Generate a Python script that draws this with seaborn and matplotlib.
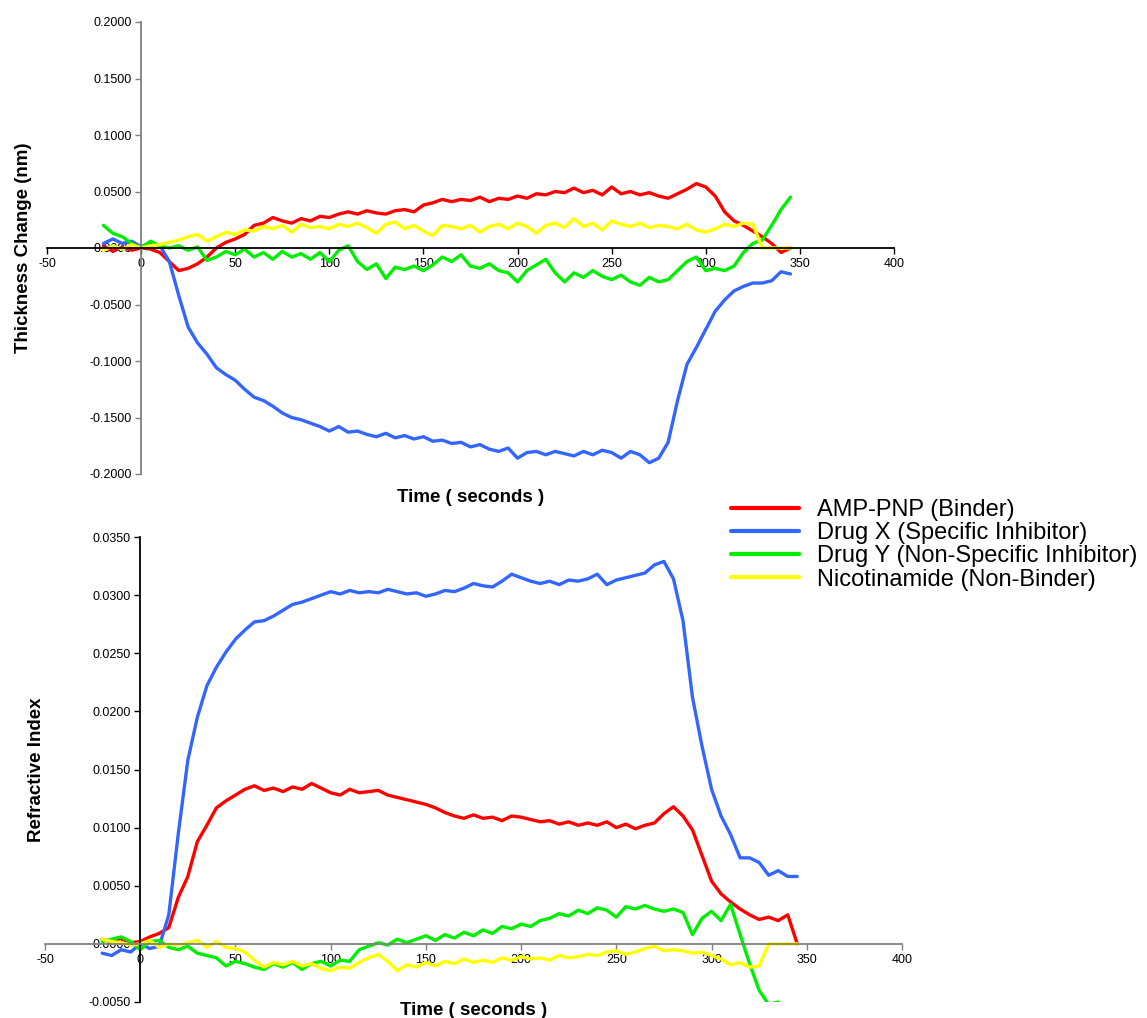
import numpy as np
import pandas as pd
import matplotlib
matplotlib.use("Agg")
import matplotlib.pyplot as plt
import seaborn as sns
from matplotlib.ticker import FixedLocator, FormatStrFormatter
from matplotlib.lines import Line2D

# ---------------- data ----------------
time = list(range(-20, 350, 5))  # seconds

series_names = ["AMP-PNP (Binder)", "Drug X (Specific Inhibitor)",
                "Drug Y (Non-Specific Inhibitor)", "Nicotinamide (Non-Binder)"]
series_colors = ["#FF0000", "#3366FF", "#00EE00", "#FFFF00"]

# Thickness change (nm)
thick_amp = [0.002, -0.003, 0.001, -0.002, 0.000, -0.001, -0.004, -0.012, -0.020, -0.018,
             -0.014, -0.008, 0.000, 0.005, 0.008, 0.012, 0.020, 0.022, 0.027, 0.024,
             0.022, 0.026, 0.024, 0.028, 0.027, 0.030, 0.032, 0.030, 0.033, 0.031,
             0.030, 0.033, 0.034, 0.032, 0.038, 0.040, 0.043, 0.041, 0.043, 0.042,
             0.045, 0.041, 0.044, 0.043, 0.046, 0.044, 0.048, 0.047, 0.050, 0.049,
             0.053, 0.049, 0.051, 0.047, 0.054, 0.048, 0.050, 0.047, 0.049, 0.046,
             0.044, 0.048, 0.052, 0.057, 0.054, 0.046, 0.032, 0.024, 0.020, 0.015,
             0.010, 0.004, -0.004, 0.000]
thick_drugx = [0.004, 0.008, 0.004, 0.006, 0.001, 0.005, 0.002, -0.012, -0.042, -0.070,
               -0.084, -0.094, -0.106, -0.112, -0.117, -0.125, -0.132, -0.135, -0.140, -0.146,
               -0.150, -0.152, -0.155, -0.158, -0.162, -0.158, -0.163, -0.162, -0.165, -0.167,
               -0.164, -0.168, -0.166, -0.169, -0.167, -0.171, -0.170, -0.173, -0.172, -0.176,
               -0.174, -0.178, -0.180, -0.177, -0.186, -0.181, -0.180, -0.183, -0.180, -0.182,
               -0.184, -0.180, -0.183, -0.179, -0.181, -0.186, -0.180, -0.183, -0.190, -0.186,
               -0.172, -0.135, -0.103, -0.088, -0.072, -0.056, -0.046, -0.038, -0.034, -0.031,
               -0.031, -0.029, -0.021, -0.023]
thick_drugy = [0.020, 0.013, 0.010, 0.004, 0.000, 0.006, 0.002, 0.000, 0.002, -0.002,
               0.001, -0.011, -0.008, -0.003, -0.006, -0.001, -0.008, -0.004, -0.010, -0.003,
               -0.008, -0.005, -0.010, -0.004, -0.012, -0.002, 0.002, -0.012, -0.019, -0.014,
               -0.027, -0.017, -0.019, -0.016, -0.020, -0.015, -0.008, -0.012, -0.006, -0.016,
               -0.018, -0.014, -0.020, -0.022, -0.030, -0.020, -0.015, -0.010, -0.022, -0.030,
               -0.022, -0.026, -0.020, -0.025, -0.028, -0.024, -0.030, -0.033, -0.026, -0.030,
               -0.028, -0.020, -0.012, -0.008, -0.020, -0.018, -0.020, -0.016, -0.004, 0.004,
               0.007, 0.020, 0.034, 0.045]
thick_nico = [-0.002, 0.002, -0.001, 0.003, 0.000, 0.002, 0.003, 0.005, 0.007, 0.010,
              0.012, 0.006, 0.010, 0.014, 0.012, 0.016, 0.015, 0.019, 0.017, 0.020,
              0.014, 0.021, 0.018, 0.019, 0.017, 0.021, 0.019, 0.022, 0.018, 0.013,
              0.021, 0.023, 0.017, 0.020, 0.015, 0.011, 0.020, 0.019, 0.017, 0.020,
              0.014, 0.019, 0.021, 0.017, 0.022, 0.019, 0.013, 0.020, 0.022, 0.018,
              0.026, 0.019, 0.022, 0.016, 0.024, 0.021, 0.019, 0.022, 0.018, 0.020,
              0.019, 0.017, 0.021, 0.016, 0.014, 0.017, 0.021, 0.019, 0.022, 0.021,
              0.000, 0.000, 0.000, 0.000]

# Refractive index
ri_amp = [0.0004, 0.0002, 0.0005, 0.0001, 0.0002, 0.0006, 0.0009, 0.0014, 0.0040, 0.0058,
          0.0088, 0.0102, 0.0117, 0.0123, 0.0128, 0.0133, 0.0136, 0.0132, 0.0134, 0.0131,
          0.0135, 0.0133, 0.0138, 0.0134, 0.0130, 0.0128, 0.0133, 0.0130, 0.0131, 0.0132,
          0.0128, 0.0126, 0.0124, 0.0122, 0.0120, 0.0117, 0.0113, 0.0110, 0.0108, 0.0111,
          0.0108, 0.0109, 0.0106, 0.0110, 0.0109, 0.0107, 0.0105, 0.0106, 0.0103, 0.0105,
          0.0102, 0.0104, 0.0102, 0.0105, 0.0100, 0.0103, 0.0099, 0.0102, 0.0104, 0.0112,
          0.0118, 0.0110, 0.0098, 0.0076, 0.0054, 0.0043, 0.0036, 0.0030, 0.0025, 0.0021,
          0.0023, 0.0020, 0.0025, 0.0000]
ri_drugx = [-0.0008, -0.0010, -0.0005, -0.0007, 0.0000, -0.0004, -0.0002, 0.0025, 0.0095, 0.0158,
            0.0195, 0.0222, 0.0238, 0.0251, 0.0262, 0.0270, 0.0277, 0.0278, 0.0282, 0.0287,
            0.0292, 0.0294, 0.0297, 0.0300, 0.0303, 0.0301, 0.0304, 0.0302, 0.0303, 0.0302,
            0.0305, 0.0303, 0.0301, 0.0302, 0.0299, 0.0301, 0.0304, 0.0303, 0.0306, 0.0310,
            0.0308, 0.0307, 0.0312, 0.0318, 0.0315, 0.0312, 0.0310, 0.0312, 0.0309, 0.0313,
            0.0312, 0.0314, 0.0318, 0.0309, 0.0313, 0.0315, 0.0317, 0.0319, 0.0326, 0.0329,
            0.0314, 0.0278, 0.0212, 0.0170, 0.0133, 0.0110, 0.0094, 0.0074, 0.0074, 0.0070,
            0.0059, 0.0063, 0.0058, 0.0058]
ri_drugy = [0.0002, 0.0004, 0.0006, 0.0002, -0.0005, 0.0002, 0.0003, -0.0003, -0.0005, -0.0002,
            -0.0008, -0.0010, -0.0012, -0.0019, -0.0015, -0.0017, -0.0020, -0.0022, -0.0017, -0.0020,
            -0.0016, -0.0022, -0.0017, -0.0015, -0.0019, -0.0014, -0.0015, -0.0005, -0.0002, 0.0001,
            -0.0001, 0.0004, 0.0001, 0.0004, 0.0007, 0.0003, 0.0008, 0.0005, 0.0010, 0.0007,
            0.0012, 0.0009, 0.0015, 0.0013, 0.0017, 0.0015, 0.0020, 0.0022, 0.0026, 0.0024,
            0.0029, 0.0026, 0.0031, 0.0029, 0.0023, 0.0032, 0.0030, 0.0033, 0.0030, 0.0028,
            0.0030, 0.0027, 0.0008, 0.0022, 0.0028, 0.0020, 0.0034, 0.0008, -0.0017, -0.0040,
            -0.0052, -0.0050, np.nan, np.nan]
ri_nico = [0.0004, 0.0002, 0.0001, -0.0001, 0.0000, 0.0003, -0.0003, 0.0000, -0.0001, 0.0001,
           0.0003, -0.0003, 0.0002, -0.0003, -0.0004, -0.0007, -0.0014, -0.0020, -0.0016, -0.0018,
           -0.0015, -0.0019, -0.0017, -0.0021, -0.0023, -0.0020, -0.0021, -0.0016, -0.0012, -0.0009,
           -0.0015, -0.0023, -0.0018, -0.0020, -0.0016, -0.0019, -0.0015, -0.0017, -0.0013, -0.0016,
           -0.0014, -0.0016, -0.0012, -0.0014, -0.0011, -0.0013, -0.0012, -0.0014, -0.0010, -0.0012,
           -0.0011, -0.0009, -0.0010, -0.0007, -0.0006, -0.0009, -0.0007, -0.0004, -0.0002, -0.0006,
           -0.0005, -0.0006, -0.0008, -0.0007, -0.0010, -0.0013, -0.0018, -0.0016, -0.0020, -0.0019,
           0.0000, 0.0000, 0.0000, 0.0000]

x_ticks = [-50, 0, 50, 100, 150, 200, 250, 300, 350, 400]
thick_ticks = [-0.2, -0.15, -0.1, -0.05, 0.0, 0.05, 0.1, 0.15, 0.2]
ri_ticks = [-0.005, 0.0, 0.005, 0.01, 0.015, 0.02, 0.025, 0.03, 0.035]


def long_form(cols):
    frames = []
    for name, vals in zip(series_names, cols):
        frames.append(pd.DataFrame({"time": time, "value": vals, "series": name}))
    return pd.concat(frames, ignore_index=True).dropna()


df_thick = long_form([thick_amp, thick_drugx, thick_drugy, thick_nico])
df_ri = long_form([ri_amp, ri_drugx, ri_drugy, ri_nico])

# ---------------- style ----------------
sns.set_theme(style="white")
plt.rcParams["font.family"] = ["Liberation Sans", "DejaVu Sans"]
plt.rcParams["text.color"] = "black"
plt.rcParams["axes.labelcolor"] = "black"
plt.rcParams["xtick.color"] = "black"
plt.rcParams["ytick.color"] = "black"

W, H = 1147, 1018
fig = plt.figure(figsize=(W / 100, H / 100), dpi=100)
ax1 = fig.add_axes([47 / W, 1 - 474 / H, 847 / W, 452 / H])
ax2 = fig.add_axes([45 / W, 1 - 1002 / H, 857 / W, 465 / H])

palette = dict(zip(series_names, series_colors))

for ax, df in [(ax1, df_thick), (ax2, df_ri)]:
    sns.lineplot(data=df, x="time", y="value", hue="series", hue_order=series_names,
                 palette=palette, linewidth=2.4, estimator=None, sort=False,
                 legend=False, ax=ax)


def style_axes(ax, yticks, ylim, fmt, xcol, ycol, ylabel, xlabel_y, ylabel_x):
    ax.set_xlim(-50, 400)
    ax.set_ylim(*ylim)
    ax.xaxis.set_major_locator(FixedLocator(x_ticks))
    ax.yaxis.set_major_locator(FixedLocator(yticks))
    ax.yaxis.set_major_formatter(FormatStrFormatter(fmt))
    ax.xaxis.set_major_formatter(FormatStrFormatter("%d"))
    for s in ["top", "right"]:
        ax.spines[s].set_visible(False)
    ax.spines["bottom"].set_position(("data", 0))
    ax.spines["left"].set_position(("data", 0))
    ax.spines["bottom"].set_color(xcol)
    ax.spines["left"].set_color(ycol)
    ax.spines["bottom"].set_linewidth(1.3)
    ax.spines["left"].set_linewidth(1.3)
    ax.tick_params(axis="x", bottom=True, direction="out", length=4, width=1,
                   color=xcol, labelsize=9, pad=3, labelcolor="black")
    ax.tick_params(axis="y", left=True, direction="out", length=4, width=1,
                   color=ycol, labelsize=9, pad=3, labelcolor="black")
    ax.set_xlabel("Time ( seconds )", fontsize=13.5, fontweight="bold", color="black")
    ax.set_ylabel(ylabel, fontsize=13.5, fontweight="bold", color="black")
    ax.xaxis.set_label_coords(0.5, xlabel_y)
    ax.yaxis.set_label_coords(ylabel_x, 0.5)
    ax.patch.set_alpha(0)
    ax.grid(False)


style_axes(ax1, thick_ticks, (-0.2, 0.2), "%.4f", "black", "#808080",
           "Thickness Change (nm)", -0.033, -0.018)
style_axes(ax2, ri_ticks, (-0.005, 0.035), "%.4f", "#808080", "black",
           "Refractive Index", 0.0, 0.0)

handles = [Line2D([], [], color=c, linewidth=3) for c in series_colors]
leg = fig.legend(handles, series_names, loc="upper left",
                 bbox_to_anchor=(731 / W, 1 - 499 / H), frameon=False, fontsize=17,
                 handlelength=2.9, handletextpad=0.75, labelspacing=0.05,
                 borderpad=0, borderaxespad=0)
for t in leg.get_texts():
    t.set_color("black")

fig.savefig("out.png", dpi=100)
